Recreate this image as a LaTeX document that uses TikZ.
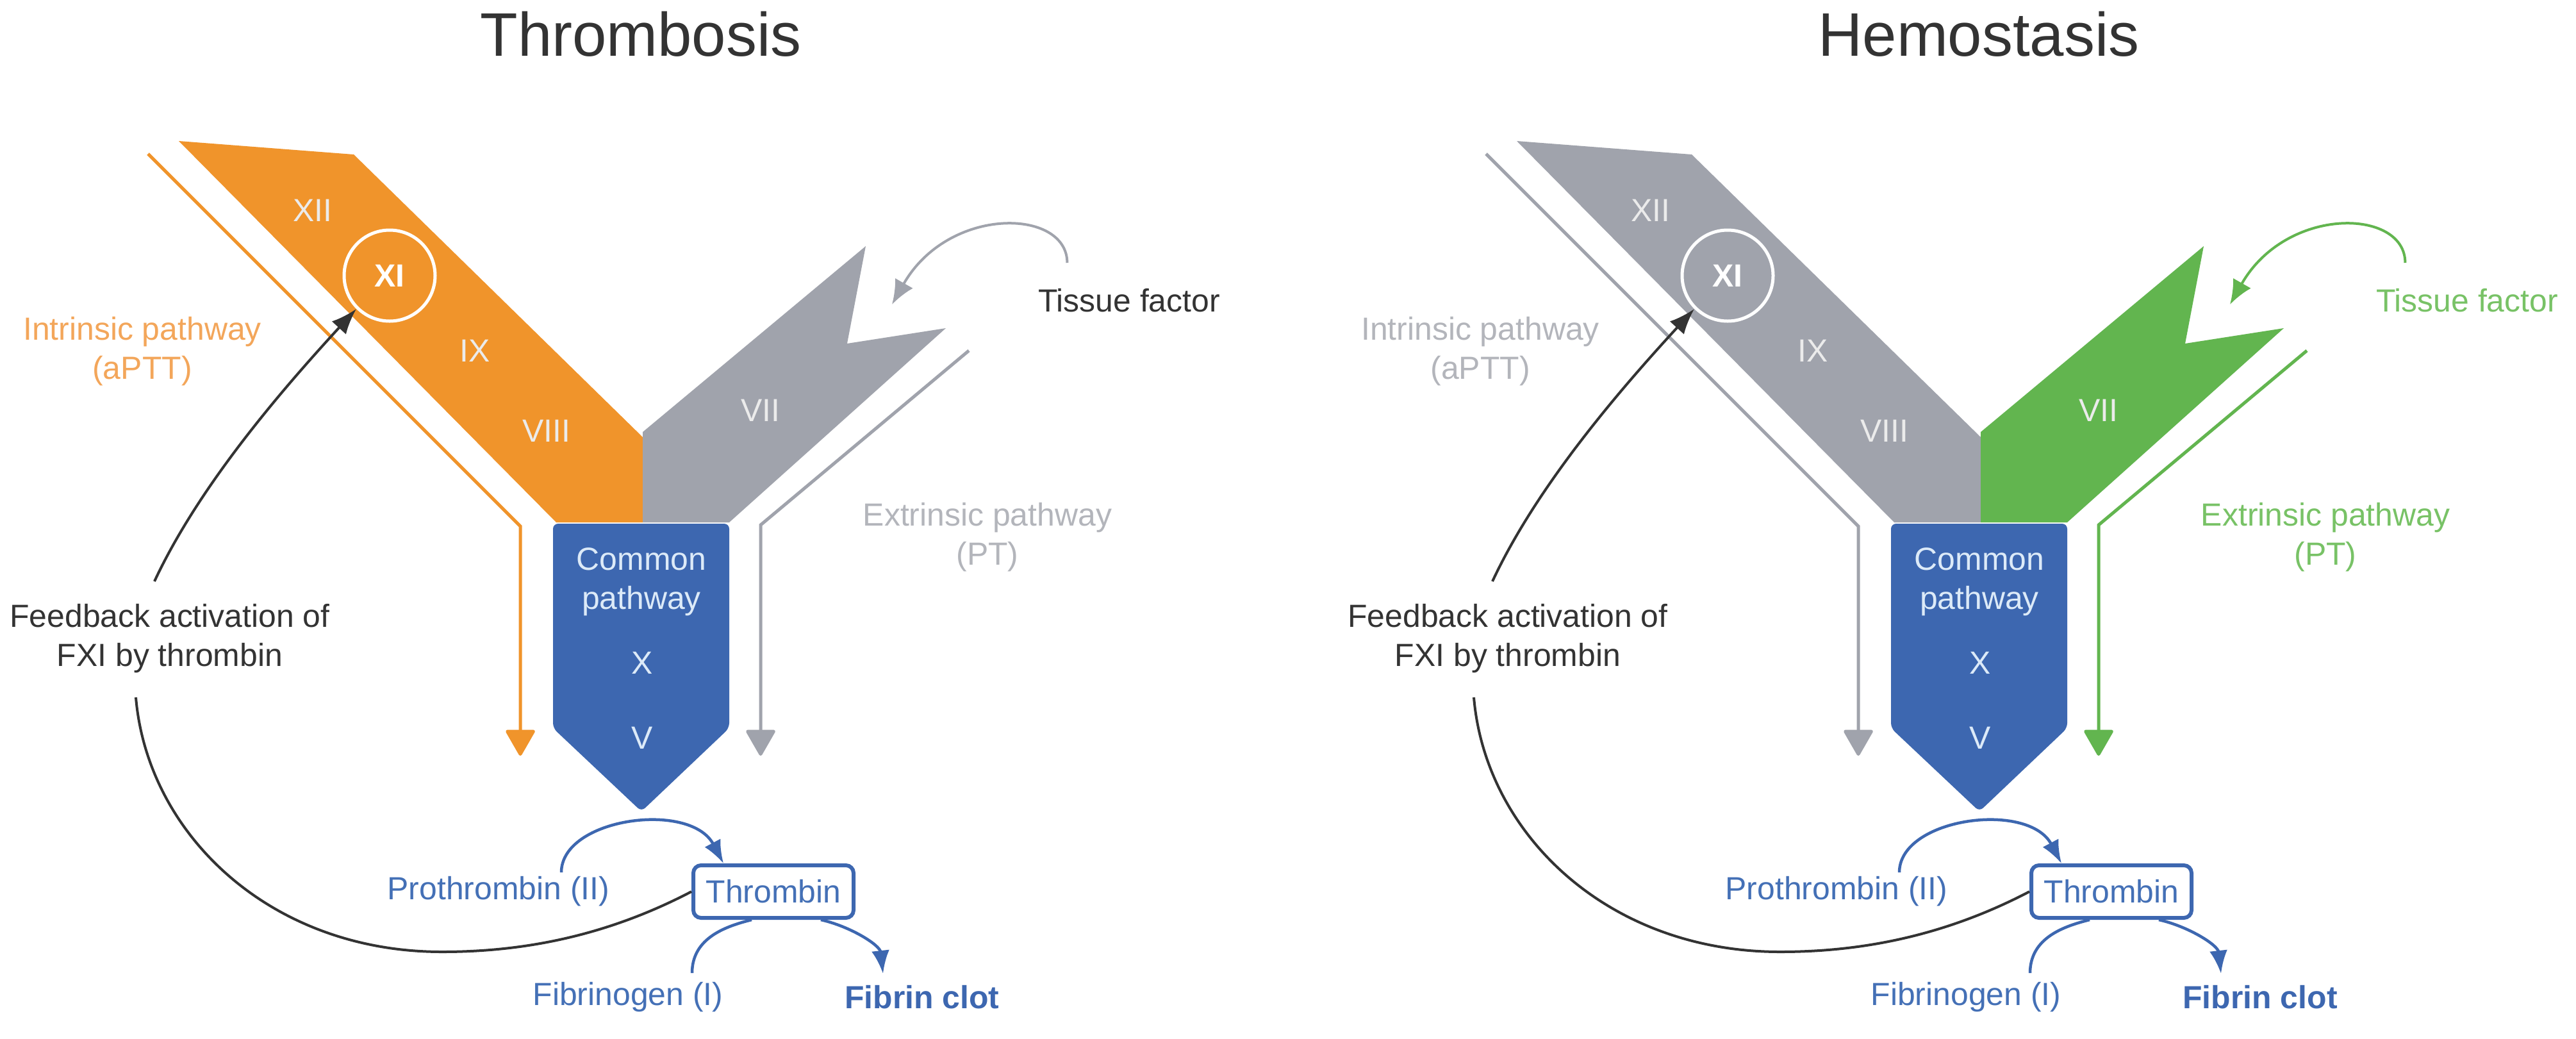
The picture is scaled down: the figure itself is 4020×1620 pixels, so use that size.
\documentclass[tikz,border=0pt]{standalone}
\usepackage{fontspec}
\setmainfont{Liberation Sans}
\usetikzlibrary{arrows.meta,calc}

\definecolor{clotorange}{HTML}{F0942B}
\definecolor{clotorangetxt}{HTML}{F3A65A}
\definecolor{clotgray}{HTML}{A0A3AC}
\definecolor{clotgraytxt}{HTML}{B3B5BB}
\definecolor{clotgreen}{HTML}{62B54F}
\definecolor{clotgreentxt}{HTML}{78C266}
\definecolor{clotblue}{HTML}{3D67B0}
\definecolor{clotbluetxt}{HTML}{4470B6}
\definecolor{clotlight}{HTML}{DCEAF8}
\definecolor{clotdark}{HTML}{333333}

\begin{document}
\begin{tikzpicture}[x=0.1mm, y=-0.1mm,
  every node/.append style={font=\fontsize{14.2}{17.4}\selectfont, inner sep=0pt, align=center},
  panel title/.style={font=\fontsize{27.3}{32}\selectfont, text=clotdark, anchor=base},
  factor/.style={text=white!92!black},
  ring/.style={circle, draw=white, line width=0.5mm, minimum size=14.2mm, text=white,
    font=\fontsize{14.2}{17.4}\selectfont\bfseries},
  path line/.style={line width=0.5mm, -{Triangle[width=4.8mm,length=4.3mm,round]}},
  blue arc/.style={clotblue, line width=0.45mm, -{Latex[length=3.6mm,width=2.8mm]}},
  feedback/.style={clotdark, line width=0.4mm},
  tissue arc/.style={line width=0.4mm, -{Latex[length=3.8mm,width=3.2mm]}},
  thrombin box/.style={draw=clotblue, line width=0.6mm, rounded corners=1.2mm,
    minimum width=25mm, minimum height=8.2mm, text=clotbluetxt}]

  \fill [white] (0,0) rectangle (4020,1620);
  \useasboundingbox (0,0) rectangle (4020,1620);

  % Thrombosis

  \begin{scope}
    \node [panel title] (ttitle) at (1000,87) {Thrombosis};

    \fill [clotorange] (279,220) -- (552,241) -- (1003,682) -- (1003,815) -- (868,815) -- cycle;
    \fill [clotgray] (1003,674) -- (1351,384) -- (1322,536) -- (1476,512) -- (1138,815) -- (1003,815) -- cycle;
    \fill [clotblue, rounded corners=0.8mm] (863,817) -- (1138,817) -- (1138,1136) -- (1001,1266) -- (863,1136) -- cycle;

    \draw [path line, clotorange] (231,240) -- (812,821) -- (812,1179);
    \draw [path line, clotgray] (1512,547) -- (1187,819) -- (1187,1179);

    \node [factor] (txii) at (488,328) {XII};
    \node [ring] (txi) at (608,430) {XI};
    \node [factor] (tix) at (741,547) {IX};
    \node [factor] (tviii) at (853,672) {VIII};
    \node [factor] (tvii) at (1187,640) {VII};
    \node [text=clotlight] (tcommon) at (1001,908) {Common\\pathway};
    \node [text=clotlight] (tx) at (1002,1034) {X};
    \node [text=clotlight] (tv) at (1002,1151) {V};

    \node [text=clotorangetxt] (tintr) at (222,548) {Intrinsic pathway\\(aPTT)};
    \node [text=clotgraytxt] (textr) at (1541,838) {Extrinsic pathway\\(PT)};
    \node [text=clotdark] (ttf) at (1762,469) {Tissue factor};
    \node [text=clotdark] (tfb) at (265,996) {Feedback activation of\\FXI by thrombin};

    \node [thrombin box] (tthr) at (1207,1391) {Thrombin};
    \node [text=clotbluetxt] (tpro) at (778,1391) {Prothrombin (II)};
    \node [text=clotbluetxt] (tfbg) at (980,1556) {Fibrinogen (I)};
    \node [text=clotblue, font=\fontsize{14.2}{17.4}\selectfont\bfseries] (tclot) at (1439,1556) {Fibrin clot};

    \coordinate (tfbin) at (212,1088);
    \coordinate (tfbout) at (241,907);
    \coordinate (ttfend) at (1392,475);

    \draw [tissue arc, clotgray] ($(ttf.north west)+(46,-40)$) .. controls +(0,-85) and +(88,-155) .. (ttfend);
    \draw [blue arc] ($(tpro.north)+(98,-6)$) .. controls +(0,-85) and +(-52,-98) .. ($(tthr.north west)+(50,0)$);
    \draw [blue arc, -] ($(tfbg.north)+(100,-14)$) .. controls +(0,-55) and +(-40,10) .. ($(tthr.south)+(-34,0)$);
    \draw [blue arc] ($(tthr.south)+(74,0)$) .. controls +(45,10) and +(-5,-45) .. ($(tclot.north)+(-61,-18)$);
    \draw [feedback] (tthr.west) .. controls +(-130,68) and +(130,0) .. (690,1485)
      .. controls +(-270,0) and +(18,212) .. (tfbin);
    \draw [feedback, -{Latex[length=4mm,width=3mm]}] (tfbout) .. controls +(70,-150) and +(-115,125) .. (txi.south west);
  \end{scope}

  % Hemostasis

  \begin{scope}[shift={(2088,0)}]
    \node [panel title] (htitle) at (1000,87) {Hemostasis};

    \fill [clotgray] (279,220) -- (552,241) -- (1003,682) -- (1003,815) -- (868,815) -- cycle;
    \fill [clotgreen] (1003,674) -- (1351,384) -- (1322,536) -- (1476,512) -- (1138,815) -- (1003,815) -- cycle;
    \fill [clotblue, rounded corners=0.8mm] (863,817) -- (1138,817) -- (1138,1136) -- (1001,1266) -- (863,1136) -- cycle;

    \draw [path line, clotgray] (231,240) -- (812,821) -- (812,1179);
    \draw [path line, clotgreen] (1512,547) -- (1187,819) -- (1187,1179);

    \node [factor] (hxii) at (488,328) {XII};
    \node [ring] (hxi) at (608,430) {XI};
    \node [factor] (hix) at (741,547) {IX};
    \node [factor] (hviii) at (853,672) {VIII};
    \node [factor] (hvii) at (1187,640) {VII};
    \node [text=clotlight] (hcommon) at (1001,908) {Common\\pathway};
    \node [text=clotlight] (hx) at (1002,1034) {X};
    \node [text=clotlight] (hv) at (1002,1151) {V};

    \node [text=clotgraytxt] (hintr) at (222,548) {Intrinsic pathway\\(aPTT)};
    \node [text=clotgreentxt] (hextr) at (1541,838) {Extrinsic pathway\\(PT)};
    \node [text=clotgreentxt] (htf) at (1762,469) {Tissue factor};
    \node [text=clotdark] (hfb) at (265,996) {Feedback activation of\\FXI by thrombin};

    \node [thrombin box] (hthr) at (1207,1391) {Thrombin};
    \node [text=clotbluetxt] (hpro) at (778,1391) {Prothrombin (II)};
    \node [text=clotbluetxt] (hfbg) at (980,1556) {Fibrinogen (I)};
    \node [text=clotblue, font=\fontsize{14.2}{17.4}\selectfont\bfseries] (hclot) at (1439,1556) {Fibrin clot};

    \coordinate (hfbin) at (212,1088);
    \coordinate (hfbout) at (241,907);
    \coordinate (htfend) at (1392,475);

    \draw [tissue arc, clotgreen] ($(htf.north west)+(46,-40)$) .. controls +(0,-85) and +(88,-155) .. (htfend);
    \draw [blue arc] ($(hpro.north)+(98,-6)$) .. controls +(0,-85) and +(-52,-98) .. ($(hthr.north west)+(50,0)$);
    \draw [blue arc, -] ($(hfbg.north)+(100,-14)$) .. controls +(0,-55) and +(-40,10) .. ($(hthr.south)+(-34,0)$);
    \draw [blue arc] ($(hthr.south)+(74,0)$) .. controls +(45,10) and +(-5,-45) .. ($(hclot.north)+(-61,-18)$);
    \draw [feedback] (hthr.west) .. controls +(-130,68) and +(130,0) .. (690,1485)
      .. controls +(-270,0) and +(18,212) .. (hfbin);
    \draw [feedback, -{Latex[length=4mm,width=3mm]}] (hfbout) .. controls +(70,-150) and +(-115,125) .. (hxi.south west);
  \end{scope}
\end{tikzpicture}
\end{document}
